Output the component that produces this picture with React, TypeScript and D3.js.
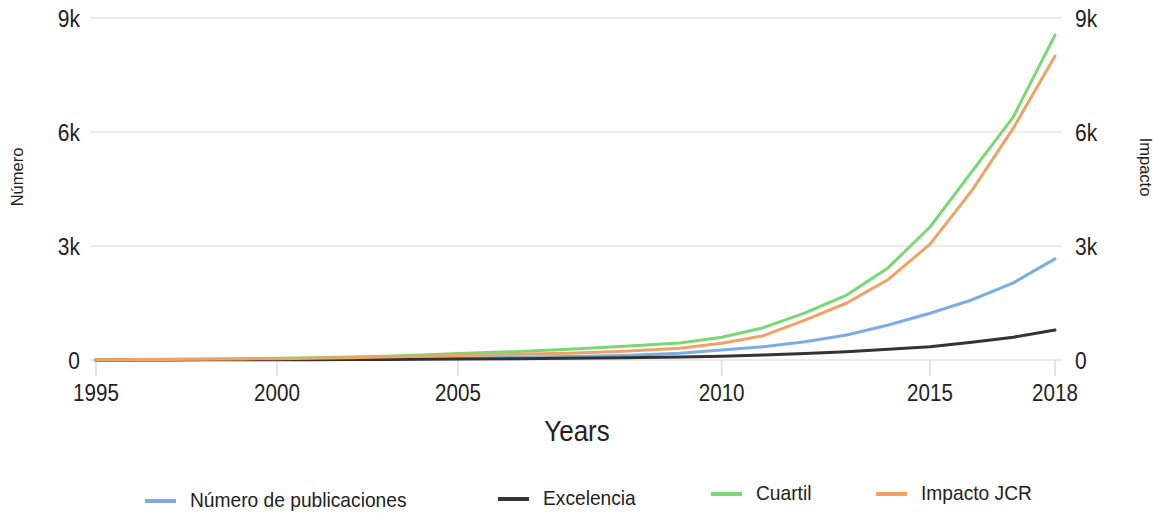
import * as d3 from 'd3';

const years = [1995, 1996, 1997, 1998, 1999, 2000, 2001, 2002, 2003, 2004, 2005, 2006,
  2007, 2008, 2009, 2010, 2011, 2012, 2013, 2014, 2015, 2016, 2017, 2018];

const publicaciones = [3, 5, 8, 10, 14, 18, 22, 27, 33, 40, 50, 70,
  90, 120, 180, 260, 350, 480, 660, 920, 1230, 1580, 2030, 2660];
const excelencia = [1, 2, 3, 4, 5, 7, 9, 12, 15, 20, 25, 35,
  45, 60, 80, 100, 130, 170, 220, 280, 350, 470, 600, 790];
const cuartil = [10, 15, 20, 25, 35, 45, 60, 80, 100, 130, 170, 220,
  280, 360, 450, 600, 850, 1240, 1710, 2430, 3500, 4950, 6400, 8550];
const impacto = [8, 12, 16, 20, 28, 36, 48, 62, 80, 100, 120, 150,
  180, 230, 310, 440, 640, 1050, 1500, 2120, 3050, 4450, 6100, 8000];

const xTicks = [1995, 2000, 2005, 2010, 2015, 2018];
const yTicks = [0, 3000, 6000, 9000];
const yTickLabels = ['0', '3k', '6k', '9k'];

const series = [
  { name: 'Número de publicaciones', values: publicaciones, color: '#7aaee3' },
  { name: 'Excelencia', values: excelencia, color: '#333333' },
  { name: 'Cuartil', values: cuartil, color: '#79d873' },
  { name: 'Impacto JCR', values: impacto, color: '#f0a263' },
];
const drawOrder = [0, 2, 1, 3];

const W = 1161;
const H = 513;
const FONT = '"Liberation Sans", Arial, sans-serif';

export default function App() {
  // the x axis of the original is not evenly spaced before 2009
  const x = d3.scaleLinear().domain([1995, 2005, 2009, 2018]).range([96, 458, 680, 1055]);
  const y = d3.scaleLinear().domain([0, 9000]).range([360, 18]);

  const line = d3.line<number>()
    .x((_, i) => x(years[i]))
    .y(d => y(d));

  const legendX = [145, 498, 711, 876];
  const legendTextY = [507, 505, 500, 500];

  return (
    <svg width={W} height={H} style={{ position: 'absolute', left: 0, top: 0, background: '#fff' }}
      fontFamily={FONT}>
      {/* grid */}
      {yTicks.map(t => (
        <line key={t} x1={90} x2={1062} y1={y(t)} y2={y(t)} stroke="#e4e4e6" strokeWidth={1.5} />
      ))}
      {xTicks.map(t => (
        <line key={t} x1={x(t)} x2={x(t)} y1={360} y2={376} stroke="#d6d9e6" strokeWidth={1.5} />
      ))}

      {/* y labels, left & right */}
      {yTicks.map((t, i) => (
        <g key={'l' + t}>
          <text transform={`translate(80,${y(t) + 9}) scale(1.05,1.2)`} textAnchor="end" fontSize={20} fill="#222">
            {yTickLabels[i]}
          </text>
          <text transform={`translate(1075,${y(t) + 9}) scale(1.05,1.2)`} textAnchor="start" fontSize={20} fill="#222">
            {yTickLabels[i]}
          </text>
        </g>
      ))}

      {/* x labels */}
      {xTicks.map(t => (
        <text key={'x' + t} transform={`translate(${x(t)},${401}) scale(1.03,1.2)`} textAnchor="middle" fontSize={20} fill="#222">
          {t}
        </text>
      ))}

      <text transform="translate(577,441) scale(1,1.15)" textAnchor="middle" fontSize={26} fill="#222">Years</text>
      <text transform="translate(23,177) rotate(-90)" textAnchor="middle" fontSize={16.5} fill="#222">Número</text>
      <text transform="translate(1140,167) rotate(90)" textAnchor="middle" fontSize={16.5} fill="#222">Impacto</text>

      {/* lines */}
      {drawOrder.map(i => (
        <path key={series[i].name} d={line(series[i].values) || ''} fill="none"
          stroke={series[i].color} strokeWidth={3} strokeLinejoin="round" strokeLinecap="round" />
      ))}

      {/* legend */}
      {series.map((s, i) => (
        <g key={'lg' + s.name}>
          <line x1={legendX[i]} x2={legendX[i] + 31} y1={legendTextY[i] - 6} y2={legendTextY[i] - 6}
            stroke={s.color} strokeWidth={4} />
          <text transform={`translate(${legendX[i] + 45},${legendTextY[i]}) scale(1,1.08)`}
            fontSize={19.2} fill="#222">{s.name}</text>
        </g>
      ))}
    </svg>
  );
}
